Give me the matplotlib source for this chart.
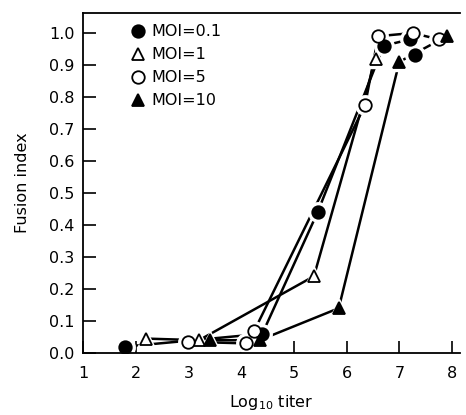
import matplotlib
matplotlib.use("Agg")
import matplotlib.pyplot as plt
from matplotlib.lines import Line2D

plt.rcParams["font.family"] = ["DejaVu Sans"]
plt.rcParams["mathtext.default"] = "regular"

# values
moi01_x = [1.8, 4.4, 5.45, 6.7, 7.2, 7.3]
moi01_y = [0.02, 0.06, 0.44, 0.96, 0.98, 0.93]
moi1_x = [2.2, 3.2, 5.38, 6.55]
moi1_y = [0.045, 0.04, 0.24, 0.92]
moi5_x = [3.0, 4.1, 4.25, 6.35, 6.6, 7.25, 7.75]
moi5_y = [0.035, 0.03, 0.07, 0.775, 0.99, 1.0, 0.98]
moi10_x = [3.4, 4.35, 5.85, 7.0, 7.9]
moi10_y = [0.04, 0.04, 0.14, 0.91, 0.99]

labels = ["MOI=0.1", "MOI=1", "MOI=5", "MOI=10"]
xticks = [1, 2, 3, 4, 5, 6, 7, 8]
yticks = [0.0, 0.1, 0.2, 0.3, 0.4, 0.5, 0.6, 0.7, 0.8, 0.9, 1.0]

series = [(moi01_x, moi01_y, "o", "black", 9),
          (moi1_x, moi1_y, "^", "white", 8),
          (moi5_x, moi5_y, "o", "white", 9),
          (moi10_x, moi10_y, "^", "black", 8)]

fig = plt.figure(figsize=(4.66, 4.15), dpi=100)
ax = fig.add_axes([83 / 466, 62 / 415, 377 / 466, 340 / 415])

for x, y, m, fc, ms in series:
    ax.plot(x, y, color="black", lw=1.8, zorder=1, solid_capstyle="butt")
    # white halo so lines stop short of the markers
    ax.plot(x, y, ls="none", marker=m, ms=ms + 5, mfc="white", mec="white", zorder=2)
    ax.plot(x, y, ls="none", marker=m, ms=ms, mfc=fc, mec="black", mew=1.3, zorder=3)

handles = [Line2D([], [], ls="none", marker=m, ms=ms, mfc=fc, mec="black", mew=1.3)
           for x, y, m, fc, ms in series]
ax.legend(handles, labels, loc="upper left", bbox_to_anchor=(0.095, 1.0),
          frameon=False, fontsize=11.5, handletextpad=0.35, labelspacing=0.5,
          handlelength=1.0, borderaxespad=0.3)

ax.set_xlim(1, 8.15)
ax.set_ylim(0, 1.0625)
ax.set_xticks(xticks)
ax.set_yticks(yticks)
ax.set_xticklabels([str(t) for t in xticks])
ax.set_yticklabels(["%.1f" % t for t in yticks])
ax.tick_params(direction="in", length=9, width=1.2, labelsize=11.5, pad=6)
ax.tick_params(axis="x", pad=9)

ax.spines["right"].set_visible(False)
for s in ["left", "bottom", "top"]:
    ax.spines[s].set_linewidth(1.3)

ax.set_xlabel("Log$_{10}$ titer", fontsize=11.5, labelpad=9)
ax.set_ylabel("Fusion index", fontsize=11.5)
ax.yaxis.set_label_coords(-0.14, 0.5)

fig.savefig("out.png", dpi=100)
